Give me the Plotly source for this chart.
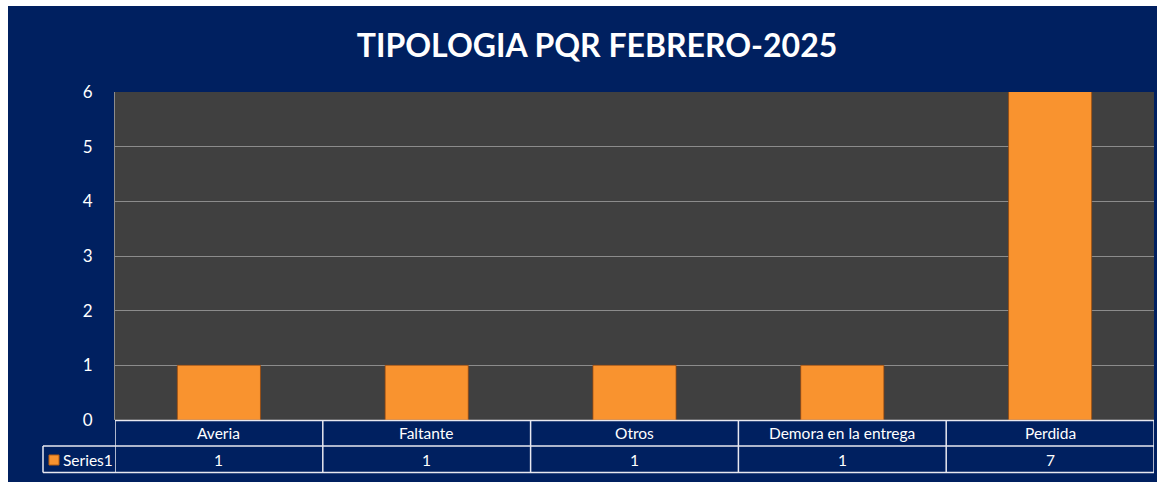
import plotly.graph_objects as go

categories = ["Averia", "Faltante", "Otros", "Demora en la entrega", "Perdida"]
values = [1, 1, 1, 1, 7]
series_name = "Series1"
title_text = "TIPOLOGIA PQR FEBRERO-2025"
y_ticks = [0, 1, 2, 3, 4, 5, 6]

W, H = 1157, 482
L, R, T, B = 115, 3, 92, 62
PW, PH = W - L - R, H - T - B

NAVY = "#002060"
GRAY = "#404040"
ORANGE = "#F9932F"
FONT = "Lato"


def px(xp):
    return (xp - L) / PW


def py(yp):
    return 1 - (yp - T) / PH


fig = go.Figure()
fig.add_trace(go.Bar(
    x=list(range(len(categories))), y=values, name=series_name,
    marker=dict(color=ORANGE, line=dict(color="rgba(150,70,10,0.7)", width=1)),
    showlegend=False, hoverinfo="skip",
))

shapes = []
# navy chart background (leaves white border top/left like reference)
shapes.append(dict(type="rect", xref="paper", yref="paper", x0=px(8), x1=px(W + 2),
                   y0=py(H + 2), y1=py(6), fillcolor=NAVY, line=dict(width=0), layer="below"))
# plot area
shapes.append(dict(type="rect", xref="paper", yref="paper", x0=0, x1=1, y0=0, y1=1,
                   fillcolor=GRAY, line=dict(width=0), layer="below"))

line_style = dict(color="#E8E8F0", width=1.5)
n = len(categories)
# table horizontal lines
shapes.append(dict(type="line", xref="paper", yref="paper", x0=0, x1=1, y0=py(420.5), y1=py(420.5), line=line_style))
shapes.append(dict(type="line", xref="paper", yref="paper", x0=px(43), x1=1, y0=py(446), y1=py(446), line=line_style))
shapes.append(dict(type="line", xref="paper", yref="paper", x0=px(43), x1=1, y0=py(472.5), y1=py(472.5), line=line_style))
# vertical lines at category boundaries
for i in range(n + 1):
    shapes.append(dict(type="line", xref="x", yref="paper", x0=i - 0.5, x1=i - 0.5,
                       y0=py(472.5), y1=py(420.5), line=line_style))
shapes.append(dict(type="line", xref="paper", yref="paper", x0=px(43), x1=px(43),
                   y0=py(472.5), y1=py(446), line=line_style))
# legend key
shapes.append(dict(type="rect", xref="paper", yref="paper", x0=px(49), x1=px(59),
                   y0=py(465), y1=py(455), fillcolor=ORANGE,
                   line=dict(color="#B85F10", width=1)))

annotations = []
for i, (c, v) in enumerate(zip(categories, values)):
    annotations.append(dict(x=i, y=py(433), xref="x", yref="paper", text=c, showarrow=False,
                            font=dict(family=FONT, size=15.5, color="white"), xanchor="center", yanchor="middle"))
    annotations.append(dict(x=i, y=py(459.5), xref="x", yref="paper", text=str(v), showarrow=False,
                            font=dict(family=FONT, size=15.5, color="white"), xanchor="center", yanchor="middle"))
annotations.append(dict(x=px(61), y=py(459.5), xref="paper", yref="paper", text=series_name, showarrow=False,
                        font=dict(family=FONT, size=15.5, color="white"), xanchor="left", yanchor="middle"))

fig.update_layout(
    width=W, height=H,
    margin=dict(l=L, r=R, t=T, b=B, pad=0),
    paper_bgcolor="white",
    plot_bgcolor="rgba(0,0,0,0)",
    title=dict(text="<b>" + title_text + "</b>", x=597 / W, y=1 - 46 / H, xref="container", yref="container",
               xanchor="center", yanchor="middle", font=dict(family=FONT, size=32, color="white")),
    bargap=0.6,
    shapes=shapes,
    annotations=annotations,
    xaxis=dict(range=[-0.5, n - 0.5], showticklabels=False, showgrid=False, zeroline=False,
               showline=False, fixedrange=True),
    yaxis=dict(range=[0, 6], tickvals=y_ticks, showgrid=True, gridcolor="#8C8C8C", gridwidth=1,
               zeroline=False, showline=True, linecolor="#8C8C8C", linewidth=1,
               ticks="", ticklabelstandoff=18,
               tickfont=dict(family=FONT, size=17, color="white"), fixedrange=True),
    showlegend=False,
)

fig.write_html("out.html", config={"displayModeBar": False},
               post_script="document.body.style.margin='0px';")
